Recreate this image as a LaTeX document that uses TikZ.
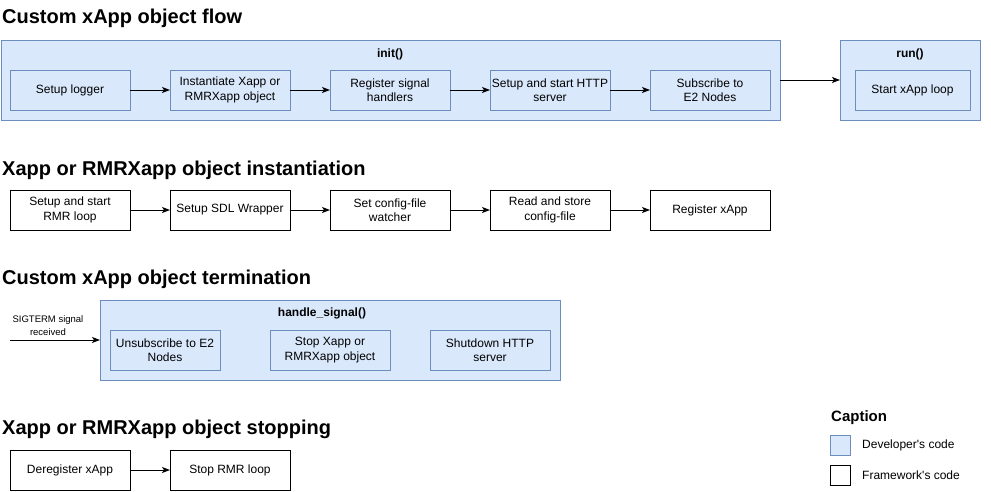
\documentclass[tikz,border=0pt]{standalone}
\usepackage{fontspec}
\setmainfont{Liberation Sans}[Ligatures=TeXOff]
\usetikzlibrary{positioning}
\usetikzlibrary{arrows.meta}
\definecolor{devfill}{HTML}{DAE8FC}
\definecolor{devline}{HTML}{6C8EBF}

\tikzset{
    heading/.style={anchor=base west, inner sep=0pt, font=\fontsize{20}{24}\selectfont\bfseries},
    devbox/.style={draw=devline, fill=devfill, line width=1pt, minimum width=120pt, minimum height=40pt, inner sep=0pt, outer sep=0pt, align=center, font=\fontsize{12}{14.4}\selectfont},
    fwbox/.style={draw=black, fill=white, line width=1pt, minimum width=120pt, minimum height=40pt, inner sep=0pt, outer sep=0pt, align=center, font=\fontsize{12}{14.4}\selectfont},
    group/.style={draw=devline, fill=devfill, line width=1pt, anchor=north west, inner sep=0pt, outer sep=0pt},
    grouptitle/.style={font=\fontsize{12}{14.4}\selectfont\bfseries, inner sep=0pt},
    flow/.style={-{Stealth[length=8pt,width=6pt,inset=2pt]}, line width=1pt},
}

\begin{document}
\begin{tikzpicture}[x=1pt, y=-1pt]

    \useasboundingbox (0,0) rectangle (991,491);

    % Custom xApp object flow
    \node[heading] (h1) at (2,23) {Custom xApp object flow};

    \node[group, minimum width=779pt, minimum height=80pt] (init) at (1,40) {};
    \node[grouptitle] at (390,54) {init()};
    \node[devbox] (logger) at (70,90) {Setup logger};
    \node[devbox, right=40pt of logger] (inst) {Instantiate Xapp or\\RMRXapp object};
    \node[devbox, right=40pt of inst] (sig) {Register signal\\handlers};
    \node[devbox, right=40pt of sig] (http) {Setup and start HTTP\\server};
    \node[devbox, right=40pt of http] (sub) {Subscribe to\\E2 Nodes};

    \node[group, minimum width=140pt, minimum height=80pt] (run) at (840,40) {};
    \node[grouptitle] at (910,54) {run()};
    \node[devbox, minimum width=115pt] (loop) at (912.5,90) {Start xApp loop};

    \draw[flow] (logger) -- (inst);
    \draw[flow] (inst) -- (sig);
    \draw[flow] (sig) -- (http);
    \draw[flow] (http) -- (sub);
    \draw[flow] (init) -- (run);

    % Xapp or RMRXapp object instantiation
    \node[heading] (h2) at (2,175) {Xapp or RMRXapp object instantiation};

    \node[fwbox] (rmr) at (70,210) {Setup and start\\RMR loop};
    \node[fwbox, right=40pt of rmr] (sdl) {Setup SDL Wrapper};
    \node[fwbox, right=40pt of sdl] (watch) {Set config-file\\watcher};
    \node[fwbox, right=40pt of watch] (store) {Read and store\\config-file};
    \node[fwbox, right=40pt of store] (reg) {Register xApp};

    \draw[flow] (rmr) -- (sdl);
    \draw[flow] (sdl) -- (watch);
    \draw[flow] (watch) -- (store);
    \draw[flow] (store) -- (reg);

    % Custom xApp object termination
    \node[heading] (h3) at (2,284) {Custom xApp object termination};

    \node[group, minimum width=460pt, minimum height=80pt] (handle) at (100,300) {};
    \node[grouptitle] at (322,313) {handle\_signal()};
    \node[devbox, minimum width=110pt] (unsub) at (165,350) {Unsubscribe to E2\\Nodes};
    \node[devbox] (stopx) at (330,350) {Stop Xapp or\\RMRXapp object};
    \node[devbox] (shut) at (490,350) {Shutdown HTTP\\server};

    \coordinate (start) at (10,340);
    \draw[flow] (start) -- (handle);
    \node[align=center, inner sep=0pt, font=\fontsize{9.5}{13}\selectfont] (sigterm) at (48,326) {SIGTERM signal\\received};

    % Xapp or RMRXapp object stopping
    \node[heading] (h4) at (2,434) {Xapp or RMRXapp object stopping};

    \node[fwbox] (dereg) at (70,470) {Deregister xApp};
    \node[fwbox, right=40pt of dereg] (stoprmr) {Stop RMR loop};

    \draw[flow] (dereg) -- (stoprmr);

    % Caption
    \node[anchor=base west, inner sep=0pt, font=\fontsize{15}{18}\selectfont\bfseries] (cap) at (831,421) {Caption};
    \node[devbox, minimum width=20pt, minimum height=20pt] (capdev) at (840,445) {};
    \node[anchor=west, inner sep=0pt, font=\fontsize{12}{14.4}\selectfont] (capdevtext) at (862,445) {Developer's code};
    \node[fwbox, minimum width=20pt, minimum height=20pt] (capfw) at (840,475) {};
    \node[anchor=west, inner sep=0pt, font=\fontsize{12}{14.4}\selectfont] (capfwtext) at (862,475) {Framework's code};

\end{tikzpicture}
\end{document}
